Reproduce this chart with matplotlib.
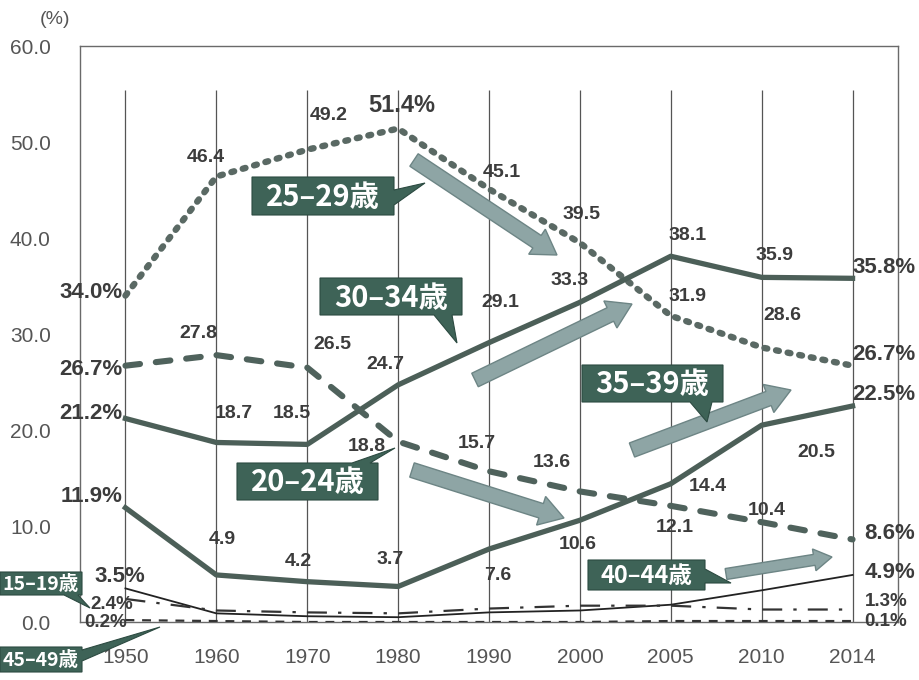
import numpy as np
import matplotlib
matplotlib.use("Agg")
import matplotlib.pyplot as plt
import matplotlib.transforms as mtransforms
from matplotlib.patches import Polygon, FancyArrow

# ---------------- data ----------------
years = ["1950", "1960", "1970", "1980", "1990", "2000", "2005", "2010", "2014"]
age_20_24 = [26.7, 27.8, 26.5, 18.8, 15.7, 13.6, 12.1, 10.4, 8.6]
age_25_29 = [34.0, 46.4, 49.2, 51.4, 45.1, 39.5, 31.9, 28.6, 26.7]
age_30_34 = [21.2, 18.7, 18.5, 24.7, 29.1, 33.3, 38.1, 35.9, 35.8]
age_35_39 = [11.9, 4.9, 4.2, 3.7, 7.6, 10.6, 14.4, 20.5, 22.5]
age_40_44 = [3.5, 0.9, 0.6, 0.5, 1.0, 1.2, 1.8, 3.3, 4.9]
age_15_19 = [2.4, 1.2, 1.0, 0.9, 1.4, 1.7, 1.7, 1.3, 1.3]
age_45_49 = [0.2, 0.1, 0.0, 0.0, 0.0, 0.0, 0.1, 0.1, 0.1]
yticks = [0, 10, 20, 30, 40, 50, 60]

W, H = 920, 680
fig = plt.figure(figsize=(W / 100, H / 100), dpi=100)
fig.patch.set_facecolor("white")
ax = fig.add_axes([80 / W, 1 - 622 / H, (898 - 80) / W, (622 - 46) / H])
x = np.arange(len(years))
ax.set_xlim(-0.5, len(years) - 0.5)
ax.set_ylim(0, 60)

# pixel transform (origin top-left)
pix = mtransforms.Affine2D().scale(1 / W, -1 / H).translate(0, 1) + fig.transFigure

NUMFONT = ["Liberation Sans", "DejaVu Sans"]
JPFONT = ["Noto Sans CJK JP", "DejaVu Sans"]

# grid
ax.vlines(x, 0, 55.4, color="#555555", lw=0.9, zorder=1)
for s in ax.spines.values():
    s.set_color("#6a6a6a")
    s.set_linewidth(1.0)

ax.set_yticks(yticks)
ax.set_yticklabels([f"{v:.1f}" for v in yticks], family=NUMFONT, fontsize=15, color="#555555")
ax.set_xticks(x)
ax.set_xticklabels(years, family=NUMFONT, fontsize=15, color="#555555")
ax.tick_params(axis="y", length=0, pad=21)
ax.tick_params(axis="x", length=0, pad=19)
fig.text(40 / W, 1 - 19 / H, "(%)", family=NUMFONT, fontsize=14, color="#555555", ha="left", va="center")

LC = "#4c5f58"
ax.plot(x, age_25_29, color="#5a6964", lw=4.6, linestyle=(0, (0.45, 1.4)), dash_capstyle="round", zorder=3)
ax.plot(x, age_30_34, color=LC, lw=3.8, zorder=3)
ax.plot(x, age_20_24, color="#4f625c", lw=4.4, linestyle=(0, (2.4, 2.6)), dash_capstyle="round", zorder=3)
ax.plot(x, age_35_39, color=LC, lw=3.8, zorder=3)
ax.plot(x, age_40_44, color="#222222", lw=1.3, zorder=3)
ax.plot(x, age_15_19, color="#333333", lw=1.6, linestyle=(0, (9, 5, 1.5, 5)), zorder=3)
ax.plot(x, age_45_49, color="#333333", lw=1.6, linestyle=(0, (4, 3.5)), zorder=3)

# ---------------- value labels ----------------
TC = "#3c3c3c"

def labels(vals, offs, first_fmt="{:.1f}%", last_fmt="{:.1f}%", size=14, endsize=16,
           first_ha="right", last=True, first=True, inner=True):
    n = len(vals)
    for i, v in enumerate(vals):
        dx, dy = offs[i]
        if i == 0:
            if not first:
                continue
            txt, ha, fs = first_fmt.format(v), first_ha, endsize
        elif i == n - 1:
            if not last:
                continue
            txt, ha, fs = last_fmt.format(v), "left", endsize
        else:
            if not inner:
                continue
            txt, ha, fs = f"{v:.1f}", "center", size
        ax.annotate(txt, (x[i], v), xytext=(dx, dy), textcoords="offset pixels",
                    ha=ha, va="center", fontsize=fs, fontweight="bold", color=TC,
                    family=NUMFONT, zorder=6, annotation_clip=False)

off_25 = [(-3, 3), (-11, 19), (21, 34), (4, 23), (13, 17), (2, 28), (17, 19), (21, 32), (0, 11)]
off_30 = [(-3, 5), (17, 29), (-15, 31), (-13, 20), (11, 40), (-10, 22), (17, 21), (13, 22), (0, 11)]
off_20 = [(-3, -4), (-18, 22), (25, 23), (-31, -5), (-12, 28), (-28, 29), (4, -22), (5, 12), (12, 6)]
off_35 = [(-3, 11), (6, 35), (-9, 20), (-8, 27), (9, -26), (-2, -24), (37, -3), (55, -27), (0, 11)]

labels(age_25_29, off_25)
labels(age_30_34, off_30)
labels(age_20_24, off_20)
labels(age_35_39, off_35)

# peak 51.4% bigger
for t in ax.texts:
    if t.get_text() == "51.4":
        t.set_text("51.4%")
        t.set_fontsize(17)

off_40 = [(-6, 12)] + [(0, 0)] * 7 + [(12, 2)]
labels(age_40_44, off_40, first_ha="center", inner=False)
off_15 = [(-14, -6)] + [(0, 0)] * 7 + [(12, 8)]
labels(age_15_19, off_15, first_ha="center", inner=False, endsize=13.5)
off_45 = [(-20, -2)] + [(0, 0)] * 7 + [(12, 0)]
labels(age_45_49, off_45, first_ha="center", inner=False, endsize=13.5)

# ---------------- big arrows ----------------
AFC, AEC = "#8ea5a5", "#6d8585"
arrows = [((414, 160), (557, 255)),
          ((475, 380), (632, 304)),
          ((412, 470), (564, 518)),
          ((632, 450), (791, 390)),
          ((726, 574), (832, 557))]
for i, ((x0, y0), (x1, y1)) in enumerate(arrows):
    w, hw, hl = (15, 30, 24) if i < 4 else (11, 22, 18)
    a = FancyArrow(x0, y0, x1 - x0, y1 - y0, width=w, head_width=hw, head_length=hl,
                   length_includes_head=True, transform=pix, facecolor=AFC, edgecolor=AEC,
                   lw=1.0, zorder=7, clip_on=False)
    ax.add_patch(a)

# ---------------- callouts ----------------
BFC, BEC = "#3e6357", "#2c4a41"
callouts = [
    ("25–29歳", [(252, 177), (394, 177), (394, 190), (425, 183), (394, 205), (394, 215), (252, 215)],
     (252, 177, 394, 215), 21),
    ("30–34歳", [(320, 278), (462, 278), (462, 315), (452, 315), (457, 343), (434, 315), (320, 315)],
     (320, 278, 462, 315), 21),
    ("20–24歳", [(237, 463), (352, 463), (395, 448), (370, 463), (378, 463), (378, 500), (237, 500)],
     (237, 463, 378, 500), 21),
    ("35–39歳", [(582, 365), (723, 365), (723, 402), (712, 402), (707, 422), (690, 402), (582, 402)],
     (582, 365, 723, 402), 21),
    ("40–44歳", [(588, 560), (705, 560), (705, 569), (731, 583), (705, 583), (705, 590), (588, 590)],
     (588, 560, 705, 590), 17),
    ("15–19歳", [(0, 572), (82, 572), (82, 595), (78, 595), (90, 608), (64, 595), (0, 595)],
     (0, 572, 82, 595), 14),
    ("45–49歳", [(0, 647), (82, 647), (82, 650), (160, 627), (82, 661), (82, 672), (0, 672)],
     (0, 647, 82, 672), 14),
]
for txt, poly, (bx0, by0, bx1, by1), fs in callouts:
    p = Polygon(poly, closed=True, transform=pix, facecolor=BFC, edgecolor=BEC, lw=0.8,
                zorder=8, clip_on=False)
    ax.add_patch(p)
    ax.text((bx0 + bx1) / 2, (by0 + by1) / 2 + 1, txt, transform=pix, ha="center", va="center",
            fontsize=fs, fontweight="bold", color="white", family=JPFONT, zorder=9, clip_on=False)

fig.savefig("out.png", dpi=100, facecolor="white")
